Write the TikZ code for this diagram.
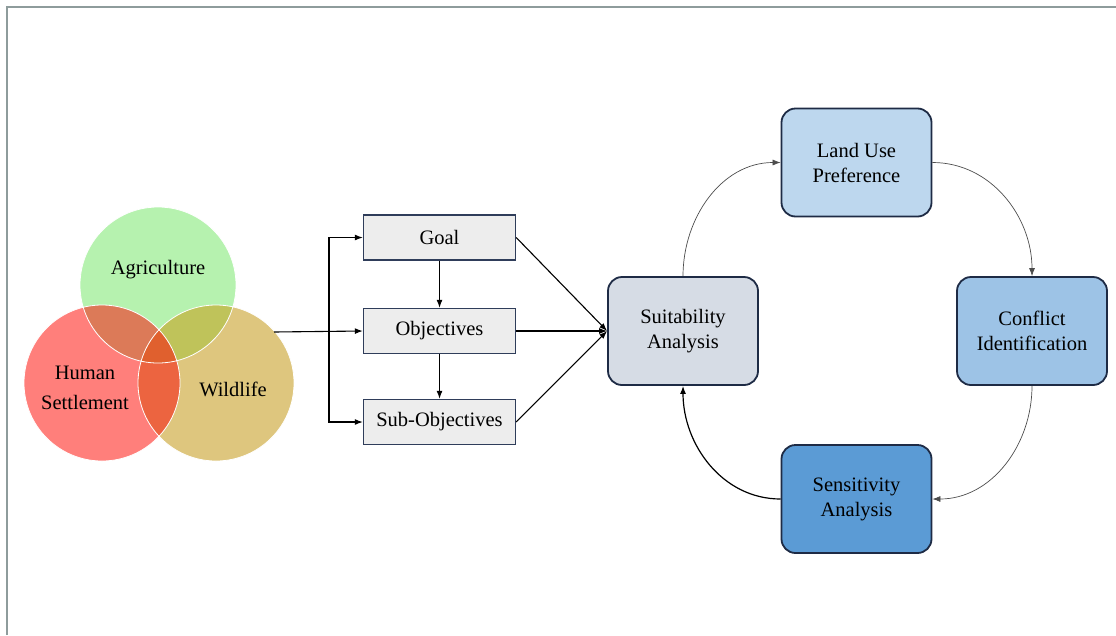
\documentclass[tikz,border=0pt]{standalone}
\usepackage{fontspec}
\setmainfont{Liberation Serif}
\usetikzlibrary{arrows.meta}

\definecolor{agri}{HTML}{B6F2AF}
\definecolor{human}{HTML}{FF7F7B}
\definecolor{wild}{HTML}{DEC67E}
\definecolor{agrihuman}{HTML}{DC7A58}
\definecolor{agriwild}{HTML}{BFC35A}
\definecolor{humanwild}{HTML}{EC6440}
\definecolor{allthree}{HTML}{E0602E}
\definecolor{boxgray}{HTML}{EDEDED}
\definecolor{boxline}{HTML}{2F3D5A}
\definecolor{cycleline}{HTML}{1E2B45}
\definecolor{suitfill}{HTML}{D6DCE5}
\definecolor{landfill}{HTML}{BDD7EE}
\definecolor{conffill}{HTML}{9DC3E6}
\definecolor{sensfill}{HTML}{5B9BD5}
\definecolor{framegray}{HTML}{8E9C9C}

\tikzset{
  txt/.style={font=\fontsize{20.5}{25}\selectfont, align=center},
  plainbox/.style={txt, draw=boxline, line width=1.4pt, fill=boxgray,
    minimum width=152pt, minimum height=45pt, inner sep=0pt},
  cyclebox/.style={txt, draw=cycleline, line width=1.8pt, rounded corners=14pt,
    minimum width=150pt, minimum height=108pt, inner sep=0pt},
  flow/.style={-{Latex[length=8pt,width=6pt]}, line width=1.1pt},
  loopline/.style={-{Latex[length=8pt,width=6pt]}, line width=0.7pt, draw=black!70},
}

\begin{document}
\begin{tikzpicture}[x=1pt,y=-1pt]
  \useasboundingbox (0,0) rectangle (1116,635);
  % frame
  \draw[framegray, line width=1.5pt] (7,635) -- (7,7) -- (1116,7);

  % venn
  \fill[agri] (158,285) circle (78);
  \fill[human] (102,383) circle (78);
  \fill[wild] (216,383) circle (78);
  \begin{scope}
    \clip (158,285) circle (78);
    \fill[agrihuman] (102,383) circle (78);
    \fill[agriwild] (216,383) circle (78);
  \end{scope}
  \begin{scope}
    \clip (102,383) circle (78);
    \fill[humanwild] (216,383) circle (78);
    \clip (158,285) circle (78);
    \fill[allthree] (216,383) circle (78);
  \end{scope}
  \draw[white, line width=0.8pt] (158,285) circle (78) (102,383) circle (78) (216,383) circle (78);
  \node[txt] (agrilbl) at (158,270) {Agriculture};
  \node[txt, font=\fontsize{20.5}{30}\selectfont] (humanlbl) at (85,388) {Human\\Settlement};
  \node[txt] (wildlbl) at (233,389) {Wildlife};

  % hierarchy
  \node[plainbox] (goal) at (439.5,237.5) {Goal};
  \node[plainbox] (obj) at (439.5,331) {Objectives};
  \node[plainbox] (subobj) at (439.5,422) {Sub-Objectives};
  \coordinate (venn) at (274,332);
  \coordinate (split) at (329,332);
  \draw[flow] (venn) -- (obj.west);
  \draw[flow] (split) |- (goal.west);
  \draw[flow] (split) |- (subobj.west);
  \draw[flow] (goal) -- (obj);
  \draw[flow] (obj) -- (subobj);

  % cycle
  \node[cyclebox, fill=suitfill] (suit) at (683,331) {Suitability\\Analysis};
  \node[cyclebox, fill=landfill] (land) at (856.5,162.5) {Land Use\\Preference};
  \node[cyclebox, fill=conffill] (conf) at (1032,331) {Conflict\\Identification};
  \node[cyclebox, fill=sensfill] (sens) at (856.5,499) {Sensitivity\\Analysis};

  \draw[flow] (goal.east) -- (suit.west);
  \draw[flow] (obj.east) -- (suit.west);
  \draw[flow] (subobj.east) -- (suit.west);

  \draw[loopline] (suit.north) to[out=90,in=180] (land.west);
  \draw[loopline] (land.east) to[out=0,in=90] (conf.north);
  \draw[loopline] (conf.south) to[out=-90,in=0] (sens.east);
  \draw[loopline, draw=black, line width=1.2pt] (sens.west) to[out=180,in=-90] (suit.south);
\end{tikzpicture}
\end{document}
